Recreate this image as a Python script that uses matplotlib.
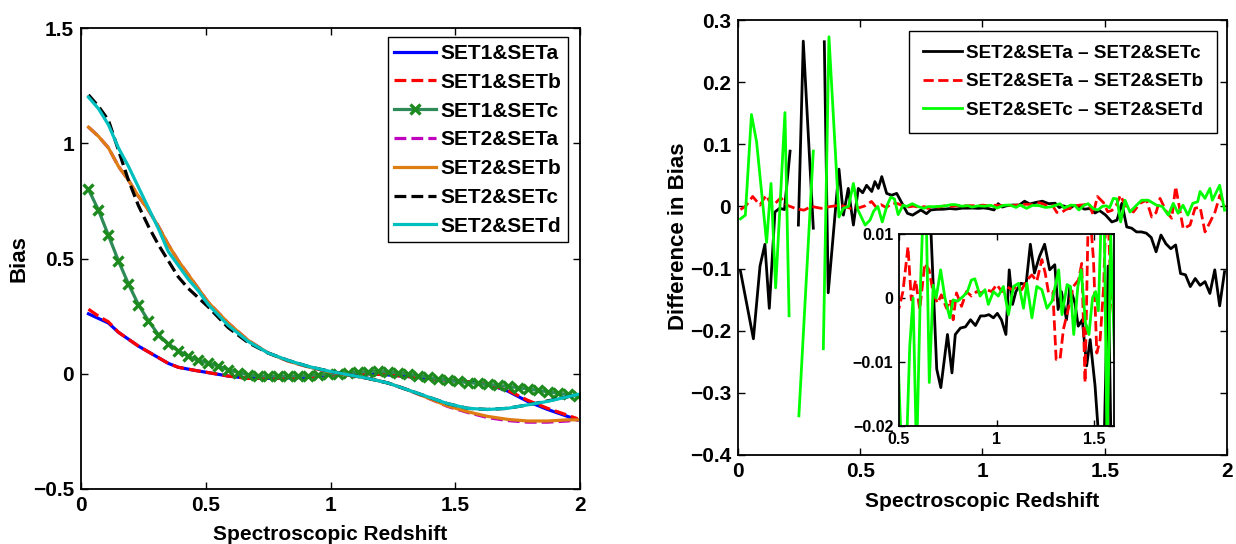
import numpy as np
import matplotlib
matplotlib.use("Agg")
import matplotlib.pyplot as plt

plt.rcParams['font.family'] = ['Liberation Sans', 'DejaVu Sans']
plt.rcParams['font.weight'] = 'bold'
plt.rcParams['axes.labelweight'] = 'bold'

nan = float('nan')

# ---------------- Left panel data ----------------
z_curve = [0.03, 0.07, 0.11, 0.15, 0.19, 0.23, 0.27, 0.31, 0.35, 0.39, 0.43, 0.47, 0.51,
           0.59, 0.67, 0.75, 0.83, 0.91, 0.99, 1.07, 1.15, 1.23, 1.31, 1.39, 1.47, 1.55,
           1.63, 1.71, 1.79, 1.87, 1.95, 1.99]
set1_a = [0.26, 0.24, 0.22, 0.18, 0.15, 0.12, 0.095, 0.07, 0.045, 0.028, 0.02, 0.012, 0.005,
          -0.01, -0.02, -0.02, -0.018, -0.015, -0.007, 0.0, 0.0, -0.005, -0.012, -0.02, -0.028,
          -0.035, -0.045, -0.075, -0.12, -0.155, -0.185, -0.2]
set1_b = [0.28, 0.25, 0.225, 0.18, 0.15, 0.12, 0.095, 0.07, 0.045, 0.028, 0.02, 0.012, 0.005,
          -0.01, -0.02, -0.02, -0.018, -0.015, -0.007, 0.0, 0.0, -0.005, -0.012, -0.02, -0.028,
          -0.035, -0.045, -0.072, -0.115, -0.15, -0.18, -0.195]
set2_a = [1.07, 1.03, 0.98, 0.90, 0.84, 0.77, 0.71, 0.64, 0.56, 0.49, 0.43, 0.37, 0.31,
          0.22, 0.145, 0.09, 0.055, 0.03, 0.01, -0.005, -0.02, -0.04, -0.07, -0.105, -0.142,
          -0.168, -0.19, -0.203, -0.21, -0.21, -0.205, -0.2]
set2_b = [1.07, 1.03, 0.98, 0.90, 0.84, 0.77, 0.71, 0.64, 0.56, 0.49, 0.43, 0.37, 0.31,
          0.22, 0.145, 0.09, 0.055, 0.03, 0.01, -0.005, -0.02, -0.04, -0.07, -0.105, -0.14,
          -0.165, -0.185, -0.198, -0.205, -0.205, -0.2, -0.2]
set2_c = [1.21, 1.16, 1.10, 0.97, 0.84, 0.73, 0.64, 0.56, 0.49, 0.42, 0.37, 0.33, 0.29,
          0.20, 0.135, 0.09, 0.058, 0.032, 0.012, -0.004, -0.02, -0.04, -0.07, -0.1, -0.13,
          -0.15, -0.155, -0.15, -0.135, -0.118, -0.1, -0.09]
set2_d = [1.20, 1.15, 1.08, 0.98, 0.90, 0.81, 0.72, 0.63, 0.53, 0.47, 0.41, 0.36, 0.30,
          0.21, 0.14, 0.09, 0.058, 0.032, 0.012, -0.004, -0.02, -0.04, -0.07, -0.1, -0.13,
          -0.15, -0.155, -0.15, -0.135, -0.12, -0.1, -0.09]

z_mark = [0.03, 0.07, 0.11, 0.15, 0.19, 0.23, 0.27, 0.31, 0.35, 0.39, 0.43, 0.47, 0.51,
          0.55, 0.59, 0.63, 0.67, 0.71, 0.75, 0.79, 0.83, 0.87, 0.91, 0.95, 0.99, 1.03,
          1.07, 1.11, 1.15, 1.19, 1.23, 1.27, 1.31, 1.35, 1.39, 1.43, 1.47, 1.51, 1.55,
          1.59, 1.63, 1.67, 1.71, 1.75, 1.79, 1.83, 1.87, 1.91, 1.95, 1.99]
set1_c = [0.80, 0.71, 0.60, 0.49, 0.39, 0.30, 0.23, 0.17, 0.13, 0.10, 0.075, 0.058, 0.047,
          0.033, 0.018, 0.005, -0.005, -0.01, -0.01, -0.01, -0.01, -0.01, -0.008, -0.005,
          -0.003, 0.0, 0.004, 0.007, 0.009, 0.01, 0.008, 0.004, -0.002, -0.008, -0.015,
          -0.022, -0.028, -0.033, -0.038, -0.042, -0.046, -0.05, -0.055, -0.06, -0.066,
          -0.072, -0.078, -0.084, -0.09, -0.097]

left_labels = ['SET1&SETa', 'SET1&SETb', 'SET1&SETc', 'SET2&SETa', 'SET2&SETb', 'SET2&SETc', 'SET2&SETd']
left_yticks = [-0.5, 0, 0.5, 1, 1.5]
left_yticklabels = ['\u22120.5', '0', '0.5', '1', '1.5']
xticks = [0, 0.5, 1, 1.5, 2]
xticklabels = ['0', '0.5', '1', '1.5', '2']

# ---------------- Right panel data ----------------
ac_z = [0.01, 0.063, 0.09, 0.11, 0.128, 0.151, 0.17, 0.19, 0.213, 0.23, 0.247, 0.267, 0.308,
        0.33, 0.353, 0.369, 0.413, 0.431, 0.451, 0.472, 0.492, 0.51, 0.526, 0.547, 0.56,
        0.574, 0.588, 0.608, 0.628, 0.649, 0.693, 0.714, 0.748, 0.771, 0.788, 0.814, 0.84,
        0.866, 0.891, 0.917, 0.938, 0.96, 0.983, 1.003, 1.024, 1.047, 1.064, 1.081, 1.098,
        1.124, 1.15, 1.172, 1.193, 1.219, 1.245, 1.271, 1.297, 1.314, 1.331, 1.357, 1.374,
        1.4, 1.417, 1.438, 1.46, 1.478, 1.503, 1.529, 1.55, 1.57, 1.59, 1.61, 1.63, 1.65,
        1.67, 1.69, 1.71, 1.73, 1.75, 1.77, 1.79, 1.81, 1.83, 1.85, 1.87, 1.89, 1.91, 1.93,
        1.95, 1.97, 1.99]
ac_d = [-0.104, -0.213, -0.096, -0.061, -0.164, -0.009, -0.003, -0.005, 0.089, nan, -0.03,
        0.266, -0.035, nan, 0.265, -0.139, 0.06, -0.014, 0.029, -0.03, 0.029, 0.022, 0.034,
        0.024, 0.04, 0.029, 0.048, 0.021, 0.018, 0.021, -0.0111, -0.014, -0.0057, -0.0117,
        -0.0057, -0.0047, -0.0045, -0.0034, -0.0043, -0.0028, -0.0028, -0.0026, -0.0031,
        -0.0024, -0.0034, -0.0057, 0.0044, -0.001, 0.001, 0.0023, 0.0021, 0.0084, 0.0039,
        0.0065, 0.0084, 0.0044, 0.0052, -0.0018, 0.001, -0.0034, 0.0018, -0.0008, -0.0044,
        -0.0034, -0.0106, -0.0065, -0.0137, -0.025, -0.022, 0.005, -0.033, -0.035, -0.041,
        -0.041, -0.043, -0.05, -0.073, -0.046, -0.06, -0.068, -0.062, -0.108, -0.11, -0.129,
        -0.116, -0.127, -0.121, -0.14, -0.102, -0.16, -0.105]

ab_z = [0.01, 0.03, 0.06, 0.09, 0.115, 0.14, 0.175, 0.2, 0.24, 0.27, 0.3, 0.34, 0.38, 0.42,
        0.46, 0.5, 0.52, 0.546, 0.563, 0.585, 0.606, 0.632, 0.654, 0.675, 0.697, 0.717,
        0.743, 0.763, 0.777, 0.794, 0.82, 0.845, 0.871, 0.897, 0.922, 0.948, 0.974, 1.0,
        1.026, 1.051, 1.077, 1.103, 1.128, 1.154, 1.18, 1.205, 1.231, 1.248, 1.265, 1.287,
        1.304, 1.324, 1.341, 1.367, 1.392, 1.418, 1.435, 1.452, 1.47, 1.495, 1.512, 1.529,
        1.547, 1.564, 1.583, 1.617, 1.644, 1.671, 1.692, 1.71, 1.726, 1.753, 1.774, 1.79,
        1.821, 1.849, 1.869, 1.89, 1.91, 1.931, 1.951, 1.971, 1.99]
ab_d = [-0.005, 0.0, 0.016, 0.002, 0.018, 0.0, 0.014, 0.002, -0.004, -0.006, 0.0, -0.003,
        0.0, 0.002, -0.003, -0.0016, 0.001, 0.008, -0.0003, 0.0028, -0.0018, 0.0054, 0.0044,
        0.0008, -0.0008, 0.0005, -0.0016, -0.0003, -0.0034, 0.0008, -0.0013, 0.001, 0.0003,
        0.001, 0.0008, 0.0013, 0.001, 0.0021, 0.001, 0.0018, 0.0013, 0.0018, 0.0013, 0.0028,
        0.0036, 0.0026, 0.006, 0.0039, 0.0008, 0.001, -0.0096, -0.0096, -0.0049, -0.0016,
        0.0018, 0.0028, 0.0054, -0.0132, 0.016, 0.006, -0.0086, -0.0065, 0.0018, 0.018,
        0.002, -0.009, 0.005, 0.01, -0.017, -0.01, 0.013, -0.009, -0.019, 0.032, -0.036,
        -0.03, -0.003, -0.001, -0.041, -0.025, -0.009, 0.018, 0.0]

cd_z = [0.01, 0.03, 0.055, 0.076, 0.117, 0.135, 0.154, 0.192, 0.209, 0.23, 0.249, 0.308,
        0.33, 0.349, 0.372, 0.413, 0.431, 0.452, 0.472, 0.49, 0.5, 0.52, 0.54, 0.555, 0.572,
        0.59, 0.61, 0.625, 0.64, 0.655, 0.675, 0.69, 0.713, 0.735, 0.76, 0.777, 0.8, 0.83,
        0.85, 0.87, 0.888, 0.915, 0.94, 0.957, 0.983, 1.008, 1.034, 1.06, 1.086, 1.112,
        1.137, 1.154, 1.18, 1.205, 1.231, 1.257, 1.283, 1.317, 1.334, 1.36, 1.377, 1.394,
        1.415, 1.432, 1.454, 1.472, 1.49, 1.506, 1.52, 1.535, 1.55, 1.565, 1.583, 1.603,
        1.625, 1.651, 1.678, 1.695, 1.712, 1.735, 1.76, 1.78, 1.8, 1.82, 1.84, 1.86, 1.88,
        1.89, 1.91, 1.93, 1.94, 1.97, 1.99]
cd_d = [-0.02, -0.014, 0.148, 0.104, -0.058, 0.037, -0.131, 0.151, -0.176, nan, -0.337,
        0.089, nan, -0.229, 0.273, -0.017, -0.003, 0.0, 0.037, -0.005, -0.0135, -0.03,
        -0.022, -0.0075, 0.0, -0.025, 0.002, 0.015, 0.012, -0.0132, 0.002, 0.0, 0.0044,
        0.0, -0.0031, -0.0003, -0.0005, 0.0003, 0.001, 0.0028, 0.003, 0.0003, 0.0013,
        -0.001, 0.001, 0.0003, 0.0018, -0.0026, 0.0018, 0.0023, -0.0016, 0.0023, -0.0031,
        0.0018, 0.0013, -0.0016, -0.0005, 0.0044, -0.0026, 0.0021, 0.0018, -0.0057, 0.0018,
        0.0044, -0.0039, -0.0057, 0.0, 0.001, -0.002, 0.013, 0.012, -0.025, 0.01, -0.009,
        0.0, 0.01, 0.01, 0.006, 0.002, 0.0, -0.014, 0.005, -0.011, 0.002, -0.014, 0.005,
        0.0075, 0.024, 0.013, 0.029, 0.01, 0.034, -0.006]

right_labels = ['SET2&SETa \u2013 SET2&SETc', 'SET2&SETa \u2013 SET2&SETb', 'SET2&SETc \u2013 SET2&SETd']
right_yticks = [-0.4, -0.3, -0.2, -0.1, 0, 0.1, 0.2, 0.3]
right_yticklabels = ['\u22120.4', '\u22120.3', '\u22120.2', '\u22120.1', '0', '0.1', '0.2', '0.3']
inset_xticks = [0.5, 1, 1.5]
inset_xticklabels = ['0.5', '1', '1.5']
inset_yticks = [-0.02, -0.01, 0, 0.01]
inset_yticklabels = ['\u22120.02', '\u22120.01', '0', '0.01']

# ---------------- Figure ----------------
W, H = 1236, 544
fig = plt.figure(figsize=(W / 100, H / 100), dpi=100)

def px_axes(l, t, r, b):
    return fig.add_axes([l / W, 1 - b / H, (r - l) / W, (b - t) / H])

def style(ax, size=15, length=5, pad=5):
    ax.tick_params(direction='in', top=True, right=True, length=length, width=1,
                   labelsize=size, pad=pad)
    for s in ax.spines.values():
        s.set_linewidth(1.3)

# Left panel
ax1 = px_axes(81, 28, 580, 489)
lw = 2.3
ax1.plot(z_curve, set1_a, color='#0000FF', lw=lw, label=left_labels[0])
ax1.plot(z_curve, set1_b, color='#FF0000', lw=lw, ls='--', label=left_labels[1])
ax1.plot(z_mark, set1_c, color='#2E8B57', lw=lw, marker='x', ms=6.5, mew=2.4,
         mec='#1C8A1C', label=left_labels[2])
ax1.plot(z_curve, set2_a, color='#BF00BF', lw=lw, ls='--', label=left_labels[3])
ax1.plot(z_curve, set2_b, color='#DE7D11', lw=lw, label=left_labels[4])
ax1.plot(z_curve, set2_c, color='#000000', lw=lw, ls='--', label=left_labels[5])
ax1.plot(z_curve, set2_d, color='#00BFBF', lw=lw, label=left_labels[6])
ax1.set_xlim(0, 2)
ax1.set_ylim(-0.5, 1.5)
ax1.set_xticks(xticks)
ax1.set_xticklabels(xticklabels)
ax1.set_yticks(left_yticks)
ax1.set_yticklabels(left_yticklabels)
style(ax1)
ax1.set_xlabel('Spectroscopic Redshift', fontsize=15, fontweight='bold')
ax1.xaxis.set_label_coords(0.5, -0.098)
ax1.xaxis.label.set_va('center')
ax1.set_ylabel('Bias', fontsize=16, fontweight='bold')
ax1.yaxis.set_label_coords(-0.124, 0.5)
ax1.yaxis.label.set_va('center')
leg1 = ax1.legend(loc='upper right', bbox_to_anchor=(567.7 / W, 1 - 37.3 / H),
                  bbox_transform=fig.transFigure, borderaxespad=0,
                  prop={'size': 15, 'weight': 'bold'}, handlelength=2.0,
                  handletextpad=0.2, borderpad=0.32, labelspacing=0.47,
                  fancybox=False, framealpha=1, edgecolor='black')
leg1.get_frame().set_linewidth(1.0)

# Right panel
ax2 = px_axes(738, 20, 1227, 455)
lw2 = 2.0
ax2.plot(ac_z, ac_d, color='black', lw=lw2, label=right_labels[0])
ax2.plot(ab_z, ab_d, color='#FF0000', lw=lw2, ls='--', label=right_labels[1])
ax2.plot(cd_z, cd_d, color='#00FF00', lw=lw2, label=right_labels[2])
ax2.set_xlim(0, 2)
ax2.set_ylim(-0.4, 0.3)
ax2.set_xticks(xticks)
ax2.set_xticklabels(xticklabels)
ax2.set_yticks(right_yticks)
ax2.set_yticklabels(right_yticklabels)
style(ax2)
ax2.set_xlabel('Spectroscopic Redshift', fontsize=15, fontweight='bold')
ax2.xaxis.set_label_coords(0.5, -0.106)
ax2.xaxis.label.set_va('center')
ax2.set_ylabel('Difference in Bias', fontsize=16, fontweight='bold')
ax2.yaxis.set_label_coords(-0.121, 0.503)
ax2.yaxis.label.set_va('center')
leg2 = ax2.legend(loc='upper right', bbox_to_anchor=(1217 / W, 1 - 31 / H),
                  bbox_transform=fig.transFigure, borderaxespad=0,
                  prop={'size': 13.6, 'weight': 'bold'}, handlelength=2.1,
                  handletextpad=0.2, borderpad=0.72, labelspacing=0.6,
                  fancybox=False, framealpha=1, edgecolor='black')
leg2.get_frame().set_linewidth(1.0)

# Inset
ax3 = px_axes(899, 234, 1114, 426)
ax3.set_facecolor('white')
ax3.plot(ac_z, ac_d, color='black', lw=lw2)
ax3.plot(ab_z, ab_d, color='#FF0000', lw=lw2, ls='--')
ax3.plot(cd_z, cd_d, color='#00FF00', lw=lw2)
ax3.set_xlim(0.5, 1.6)
ax3.set_ylim(-0.02, 0.01)
ax3.set_xticks(inset_xticks)
ax3.set_xticklabels(inset_xticklabels)
ax3.set_yticks(inset_yticks)
ax3.set_yticklabels(inset_yticklabels)
style(ax3, size=11.5, length=4, pad=4)

fig.savefig('out.png', dpi=100)
